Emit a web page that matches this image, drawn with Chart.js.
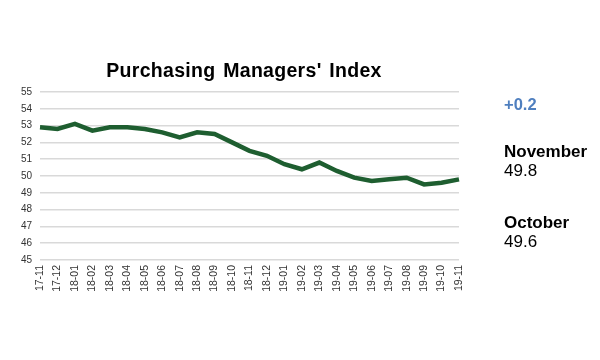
<!DOCTYPE html>
<html>
<head>
<meta charset="utf-8">
<script src="https://cdn.jsdelivr.net/npm/chart.js@4.4.0/dist/chart.umd.min.js"></script>
<style>
  html, body { margin:0; padding:0; background:#fff; }
  #wrap { position:relative; width:600px; height:360px; font-family:"Liberation Sans", Arial, sans-serif; }
  canvas { position:absolute; left:0; top:0; }
  .t { position:absolute; white-space:nowrap; color:#000; }
</style>
</head>
<body>
<div id="wrap">
  <canvas id="c" width="600" height="360"></canvas>
  <div class="t" style="left:0; width:488px; text-align:center; top:59px; font-size:19.5px; font-weight:bold; letter-spacing:0.3px; word-spacing:2px;">Purchasing Managers' Index</div>
  <div class="t" style="left:504px; top:95px; font-size:16.5px; font-weight:bold; color:#4f7fbf;">+0.2</div>
  <div class="t" style="left:504px; top:142px; font-size:17px; font-weight:bold;">November</div>
  <div class="t" style="left:504px; top:161px; font-size:17px;">49.8</div>
  <div class="t" style="left:504px; top:213px; font-size:17px; font-weight:bold;">October</div>
  <div class="t" style="left:504px; top:232px; font-size:17px;">49.6</div>
</div>
<script>
const categories = ["17-11","17-12","18-01","18-02","18-03","18-04","18-05","18-06","18-07","18-08","18-09","18-10","18-11","18-12","19-01","19-02","19-03","19-04","19-05","19-06","19-07","19-08","19-09","19-10","19-11"];
const pmiValues = [52.9,52.8,53.1,52.7,52.9,52.9,52.8,52.6,52.3,52.6,52.5,52.0,51.5,51.2,50.7,50.4,50.8,50.3,49.9,49.7,49.8,49.9,49.5,49.6,49.8];
const yTicks = [45,46,47,48,49,50,51,52,53,54,55];

new Chart(document.getElementById('c'), {
  type: 'line',
  data: {
    labels: categories,
    datasets: [{
      data: pmiValues,
      borderColor: '#1e5e30',
      borderWidth: 4.5,
      pointRadius: 0,
      tension: 0,
      fill: false
    }]
  },
  options: {
    responsive: false,
    animation: false,
    layout: { padding: { top: 92, right: 141, left: 0, bottom: 0 } },
    plugins: { legend: { display: false }, title: { display: false }, tooltip: { enabled: false } },
    scales: {
      x: {
        offset: false,
        grid: { display: false, drawTicks: false },
        border: { display: false },
        ticks: {
          autoSkip: false, maxRotation: 90, minRotation: 90, padding: 5,
          color: '#333', font: { family: '"Liberation Sans", Arial, sans-serif', size: 10.5 }
        },
        afterFit: (s) => { s.height = 100; }
      },
      y: {
        min: 45, max: 55,
        afterBuildTicks: (s) => { s.ticks = yTicks.map(v => ({ value: v })); },
        grid: { color: '#d9d9d9', lineWidth: 1.5, drawTicks: false },
        border: { display: false },
        ticks: {
          padding: 8, color: '#333',
          font: { family: '"Liberation Sans", Arial, sans-serif', size: 10 }
        },
        afterFit: (s) => { s.width = 40; }
      }
    }
  }
});
</script>
</body>
</html>
